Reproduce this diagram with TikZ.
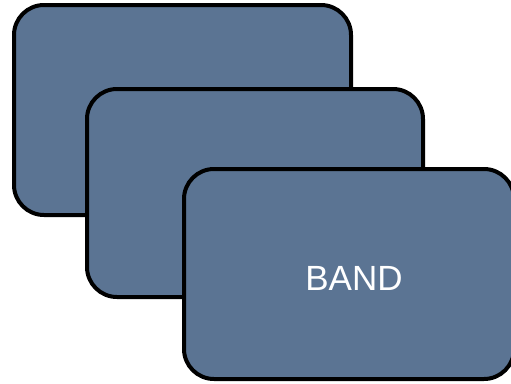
\documentclass[tikz,border=0pt]{standalone}
\usepackage{fontspec}
\setmainfont{Liberation Sans}
\definecolor{slate}{RGB}{91,116,147}
\tikzset{
  card/.style={draw=black, line width=4pt, fill=slate, rounded corners=30pt},
  cardtext/.style={text=white, font=\fontsize{35}{40}\selectfont}
}
\begin{document}
\begin{tikzpicture}[x=1pt,y=-1pt]
  \useasboundingbox (0,0) rectangle (511,383);
  \clip (0,0) rectangle (511,383);
  \draw[card] (14,5) rectangle (351,215);
  \draw[card] (87,89) rectangle (423,297);
  \draw[card] (184,169) rectangle (514,379);
  \node[cardtext] (band) at (354,278) {BAND};
\end{tikzpicture}
\end{document}
